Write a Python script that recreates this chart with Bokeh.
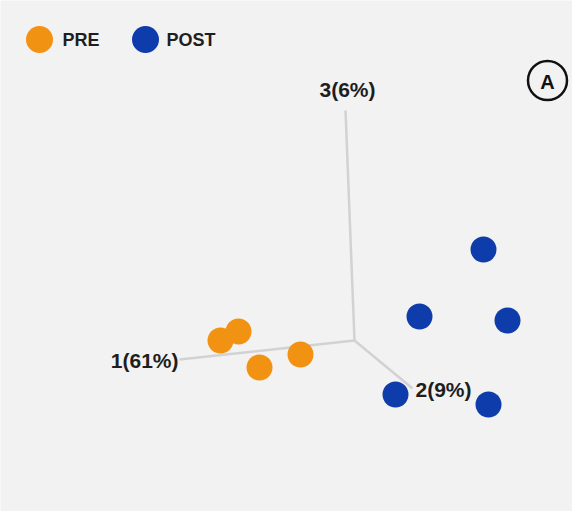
from bokeh.plotting import figure
from bokeh.models import Range1d
from bokeh.core.properties import value
from bokeh.embed import file_html
from bokeh.resources import INLINE

# Projected PCA scores (chart units, origin at the axes' crossing)
groups = ["PRE", "POST"]
pre_x = [-134, -116, -95, -54]
pre_y = [0, 9, -27, -14]
post_x = [129, 65, 153, 41, 134]
post_y = [91, 24, 20, -54, -64]
axis_labels = ["1(61%)", "2(9%)", "3(6%)"]

ORANGE = "#F29212"
BLUE = "#0E3CAA"
AXIS = "#d2d2d2"
INK = "#1e1e1e"
BG = "#f2f2f2"
FONT = value("Liberation Sans")

p = figure(width=572, height=511, output_backend="svg", toolbar_location=None,
           x_range=Range1d(-354, 218), y_range=Range1d(-171, 340),
           min_border=0)
p.axis.visible = False
p.grid.visible = False
p.outline_line_color = None
p.background_fill_color = BG
p.border_fill_color = BG

# projected axes of the 3-D score space
ends = {"1": (-175, -19), "2": (58, -48), "3": (-9, 230)}
for k, (ex, ey) in ends.items():
    p.line([0, ex], [0, ey], line_color=AXIS, line_width=2.5)

p.text(x=[-176], y=[-20], text=[axis_labels[0]], text_font=FONT, text_font_style="bold",
       text_font_size="21px", text_color=INK, text_align="right", text_baseline="middle")
p.text(x=[61], y=[-49], text=[axis_labels[1]], text_font=FONT, text_font_style="bold",
       text_font_size="21px", text_color=INK, text_align="left", text_baseline="middle")
p.text(x=[-7], y=[251], text=[axis_labels[2]], text_font=FONT, text_font_style="bold",
       text_font_size="21px", text_color=INK, text_align="center", text_baseline="middle")

# points
p.scatter(pre_x, pre_y, size=26, fill_color=ORANGE, line_color=None)
p.scatter(post_x, post_y, size=26, fill_color=BLUE, line_color=None)

# legend
p.scatter([-315], [301], size=27, fill_color=ORANGE, line_color=None)
p.scatter([-209], [301], size=27, fill_color=BLUE, line_color=None)
p.text(x=[-292, -188], y=[301, 301], text=groups, text_font=FONT, text_font_style="bold",
       text_font_size="18px", text_color=INK, text_align="left", text_baseline="middle")

# panel tag
p.scatter([193], [260], size=39, fill_color=None, line_color="#111111", line_width=2.5)
p.text(x=[193], y=[259], text=["A"], text_font=FONT, text_font_style="bold",
       text_font_size="20px", text_color="#111111", text_align="center", text_baseline="middle")

open("out.html", "w").write(file_html(p, INLINE))
